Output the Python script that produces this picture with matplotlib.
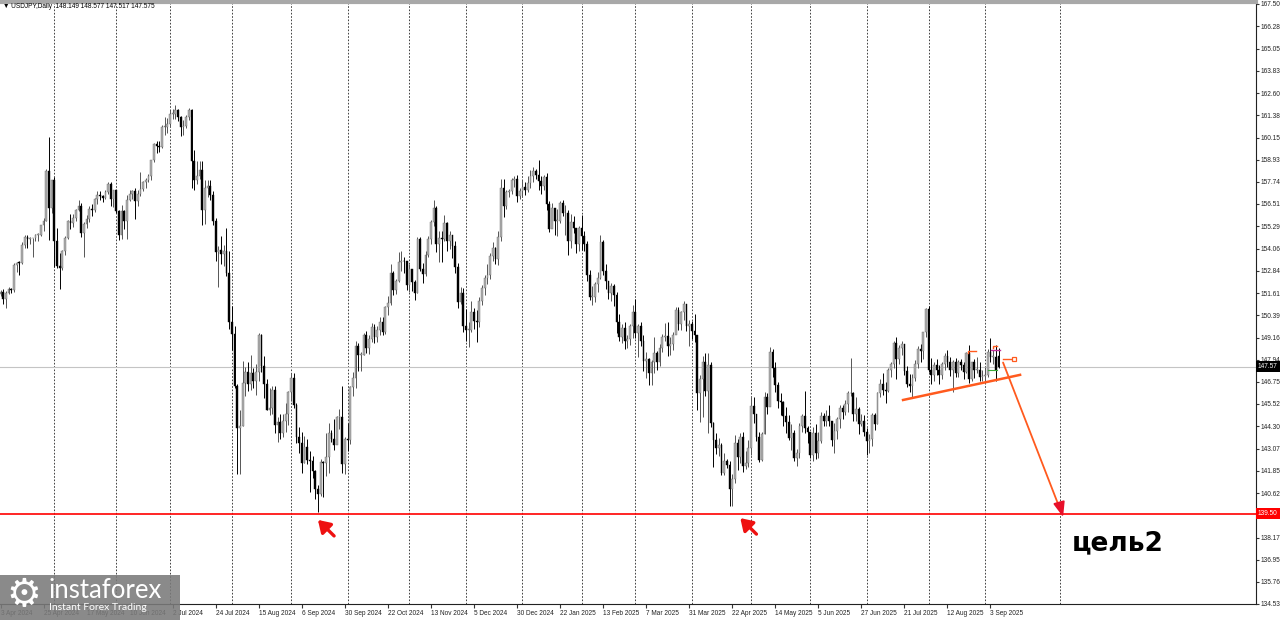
import numpy as np
import pandas as pd
import matplotlib
matplotlib.use('Agg')
import matplotlib.pyplot as plt
import matplotlib.transforms as mtransforms
from matplotlib.patches import Rectangle

plt.rcParams['font.family'] = ['Liberation Sans', 'DejaVu Sans']

# USDJPY Daily, 3 Apr 2024 .. 8 Sep 2025, one line per month
close = [
    151.68, 151.30, 151.62, 151.86, 151.76, 153.17, 153.28, 153.27, 154.25, 154.70, 154.60, 154.62, 154.63, 154.81, 154.82, 155.35, 155.60, 158.33, 156.30, 157.80,
    154.50, 153.10, 152.98, 153.90, 154.65, 155.55, 155.45, 155.75, 156.20, 156.40, 154.90, 155.40, 155.70, 156.25, 156.20, 156.80, 157.00, 156.95, 156.85, 157.15, 157.60, 156.80, 157.25,
    156.10, 154.80, 156.10, 155.60, 156.75, 157.05, 157.20, 156.70, 157.05, 157.35, 157.70, 157.85, 158.05, 158.90, 159.80, 159.70, 159.65, 160.75, 160.75, 160.90,
    161.45, 161.45, 161.70, 161.30, 160.75, 160.80, 161.30, 161.65, 158.85, 157.85, 158.05, 158.40, 156.20, 157.40, 157.50, 157.00, 155.60, 153.85, 154.00, 153.75, 153.90, 152.70, 150.00,
    149.35, 146.50, 144.20, 144.30, 146.70, 147.25, 146.60, 147.20, 146.80, 147.30, 149.30, 147.60, 146.60, 145.20, 145.30, 146.30, 144.35, 144.55, 143.90, 144.60, 144.95, 146.20,
    146.95, 145.45, 143.70, 143.40, 142.30, 143.15, 142.45, 142.40, 141.85, 140.85, 140.60, 142.35, 142.30, 142.60, 143.90, 143.60, 143.25, 144.80, 144.80, 142.20, 143.60,
    143.55, 146.45, 146.95, 148.70, 148.20, 148.20, 149.30, 148.60, 149.10, 149.75, 149.20, 149.60, 150.05, 149.50, 150.85, 151.05, 152.70, 151.80, 152.30, 153.30, 153.40, 153.35, 152.05,
    152.95, 152.20, 151.60, 154.60, 152.95, 152.65, 153.70, 154.60, 155.50, 156.30, 154.30, 154.65, 154.60, 155.45, 154.50, 154.80, 154.20, 153.05, 151.10, 151.60, 149.80,
    149.60, 149.60, 150.60, 150.10, 150.00, 151.20, 151.90, 152.45, 152.60, 153.65, 154.10, 153.50, 154.70, 157.40, 156.40, 157.15, 157.20, 157.85, 157.90, 156.95, 157.20,
    157.45, 157.30, 157.65, 158.05, 158.30, 158.10, 157.75, 157.50, 158.00, 156.50, 155.15, 156.30, 155.60, 155.60, 156.55, 156.00, 156.00, 154.50, 155.50, 155.20, 154.30, 155.20,
    154.75, 154.30, 152.60, 151.40, 151.40, 152.10, 152.45, 154.40, 152.80, 152.30, 151.60, 152.00, 151.50, 150.00, 149.20, 149.70, 149.00, 149.10, 149.80, 150.60,
    149.40, 149.80, 149.00, 147.90, 148.00, 147.20, 147.80, 148.30, 147.80, 148.60, 149.20, 149.25, 148.70, 148.80, 149.30, 150.70, 149.90, 150.55, 151.00, 149.80, 149.90,
    149.55, 149.30, 146.10, 146.90, 147.80, 146.25, 147.65, 144.50, 143.55, 143.10, 143.25, 141.75, 142.40, 142.15, 140.85, 141.40, 143.40, 142.60, 143.70, 142.10, 142.30, 143.10,
    145.40, 144.95, 143.70, 142.45, 143.85, 145.90, 145.35, 148.40, 147.50, 146.55, 145.70, 145.65, 144.85, 144.55, 143.65, 143.95, 142.55, 142.85, 144.30, 144.85, 144.20, 144.00,
    142.70, 143.95, 142.80, 143.50, 144.85, 144.60, 144.85, 144.60, 143.55, 144.05, 144.70, 145.30, 145.10, 145.50, 146.10, 146.15, 144.95, 145.25, 144.40, 144.60, 144.00,
    143.50, 143.60, 144.90, 144.40, 146.10, 146.60, 146.30, 146.25, 147.40, 147.70, 148.85, 148.00, 148.60, 148.80, 147.35, 146.60, 146.50, 146.95, 147.70, 148.55, 148.45, 149.50, 150.75,
    147.40, 147.10, 147.65, 147.40, 147.10, 147.70, 148.15, 147.80, 147.40, 147.80, 147.20, 147.85, 147.65, 147.30, 148.30, 146.90, 147.80, 147.40, 147.40, 147.00, 147.05,
    147.10, 148.40, 148.10, 148.10, 147.40, 147.575,
]
high = [
    151.80, 151.85, 151.75, 151.95, 151.92, 153.24, 153.32, 153.40, 154.40, 154.78, 154.80, 154.70, 154.65, 154.85, 154.90, 155.38, 155.75, 158.44, 160.21, 157.85,
    158.00, 155.20, 153.80, 154.00, 154.75, 155.65, 155.95, 155.95, 156.25, 156.75, 156.55, 155.50, 155.90, 156.40, 156.50, 156.85, 157.20, 157.20, 157.00, 157.25, 157.70, 157.70, 157.30,
    157.30, 156.20, 156.45, 156.20, 157.00, 157.25, 157.30, 157.40, 157.30, 158.25, 157.75, 157.95, 158.15, 158.95, 159.85, 159.95, 159.95, 160.85, 161.30, 161.25,
    161.70, 161.75, 161.95, 161.75, 161.35, 161.15, 161.40, 161.80, 161.75, 159.45, 158.85, 158.85, 158.85, 157.85, 157.85, 157.80, 157.20, 155.75, 154.20, 154.75, 154.25, 155.20, 153.90,
    150.90, 149.80, 146.60, 145.20, 147.90, 147.55, 147.80, 148.20, 147.50, 147.70, 149.40, 149.35, 148.15, 146.90, 146.40, 146.50, 146.50, 144.80, 144.95, 144.95, 145.55, 146.25,
    147.20, 147.20, 145.55, 144.25, 144.00, 143.75, 143.60, 142.95, 142.65, 141.90, 141.05, 142.50, 142.40, 143.90, 144.50, 144.10, 144.70, 144.85, 145.25, 146.50, 143.70,
    144.50, 146.50, 147.25, 149.00, 148.85, 148.35, 149.40, 149.55, 149.30, 149.95, 149.90, 149.80, 150.30, 150.30, 150.90, 151.45, 153.20, 152.80, 152.40, 153.85, 153.90, 153.60, 153.40,
    153.20, 152.95, 152.35, 154.70, 154.70, 153.25, 153.90, 154.75, 155.65, 156.75, 156.40, 155.00, 155.00, 155.90, 155.50, 155.00, 154.65, 154.50, 153.25, 151.95, 151.90,
    150.75, 150.00, 151.20, 150.80, 150.70, 151.40, 152.05, 152.60, 153.20, 153.80, 154.40, 154.15, 155.00, 157.90, 157.90, 157.30, 157.35, 157.95, 158.05, 158.10, 157.40,
    157.80, 157.70, 158.05, 158.40, 158.55, 158.45, 158.90, 158.05, 158.10, 158.20, 156.70, 156.55, 156.25, 156.25, 156.70, 156.75, 156.45, 156.20, 155.95, 155.85, 155.20, 155.30,
    155.90, 155.00, 154.45, 152.90, 152.00, 152.20, 152.75, 154.80, 154.55, 153.20, 152.20, 152.15, 152.10, 151.70, 150.45, 149.90, 150.00, 149.30, 149.90, 150.95,
    151.30, 149.90, 150.00, 149.30, 148.40, 148.05, 147.95, 149.20, 148.45, 148.80, 149.35, 149.95, 150.00, 149.20, 149.45, 150.85, 150.85, 150.65, 151.20, 151.00, 150.15,
    150.10, 150.45, 149.25, 147.10, 148.15, 148.30, 148.30, 147.85, 144.55, 143.95, 143.65, 143.40, 142.85, 142.50, 142.40, 141.65, 143.80, 143.60, 143.90, 144.00, 142.95, 143.55,
    145.90, 145.90, 144.90, 144.00, 144.00, 146.20, 146.15, 148.65, 148.55, 147.80, 146.75, 146.10, 145.70, 145.35, 144.90, 144.40, 144.10, 143.05, 144.45, 144.95, 146.25, 144.30,
    144.00, 144.25, 144.40, 144.00, 145.10, 145.05, 145.20, 145.45, 144.60, 144.45, 144.80, 145.45, 145.45, 145.75, 146.25, 148.05, 146.20, 145.90, 145.35, 144.95, 144.90,
    144.20, 143.85, 145.00, 145.00, 146.20, 146.90, 147.20, 146.75, 147.50, 147.80, 149.00, 149.20, 148.75, 149.00, 148.75, 147.60, 147.15, 147.15, 147.95, 148.70, 148.80, 149.50, 150.80,
    150.90, 148.05, 147.85, 148.00, 147.65, 147.85, 148.30, 148.50, 148.10, 147.95, 148.05, 147.95, 148.00, 147.80, 148.35, 148.75, 147.85, 148.00, 148.10, 147.80, 147.40,
    147.55, 148.55, 149.15, 148.50, 148.75, 148.577,
]
low = [
    151.45, 151.00, 150.80, 151.55, 151.60, 151.70, 152.75, 152.60, 153.20, 154.10, 154.10, 154.30, 153.58, 154.50, 154.50, 154.75, 155.00, 155.55, 154.54, 156.00,
    153.04, 152.98, 151.86, 152.90, 153.70, 154.60, 155.15, 155.25, 155.60, 156.10, 154.70, 153.60, 155.20, 155.50, 155.85, 156.05, 156.50, 156.75, 156.60, 156.80, 157.05, 156.40, 156.35,
    156.00, 154.55, 154.60, 155.15, 154.60, 156.65, 156.80, 155.70, 156.40, 156.95, 157.20, 157.40, 157.70, 157.85, 158.80, 159.30, 159.35, 159.60, 160.30, 160.40,
    160.80, 161.20, 161.20, 161.05, 160.25, 160.30, 160.70, 161.15, 157.40, 157.30, 157.60, 157.90, 155.35, 155.40, 156.90, 156.75, 155.35, 153.40, 151.95, 153.20, 153.10, 152.55, 149.65,
    148.50, 146.40, 141.70, 141.70, 144.30, 145.95, 146.25, 146.30, 146.40, 146.00, 146.80, 147.30, 145.85, 145.20, 144.90, 144.95, 143.95, 143.45, 143.60, 143.70, 144.00, 144.35,
    145.70, 145.30, 143.35, 142.85, 141.75, 142.30, 142.20, 140.70, 141.45, 140.30, 139.58, 140.45, 140.40, 141.55, 141.75, 143.45, 143.00, 143.40, 144.15, 141.75, 141.65,
    142.95, 143.30, 145.95, 146.40, 147.35, 147.35, 148.20, 148.30, 148.25, 148.95, 148.85, 148.95, 149.30, 149.30, 149.35, 150.40, 150.95, 151.50, 151.55, 152.20, 152.80, 152.70, 151.80,
    151.70, 151.75, 151.25, 151.60, 152.80, 152.15, 152.55, 153.60, 154.30, 155.30, 153.85, 153.30, 153.30, 154.45, 153.90, 154.05, 153.55, 152.70, 150.80, 151.00, 149.50,
    149.00, 148.65, 149.45, 149.65, 148.90, 149.75, 150.95, 151.50, 152.10, 152.40, 153.40, 153.20, 153.15, 154.50, 155.80, 156.25, 156.90, 157.05, 157.45, 156.60, 156.80,
    156.90, 157.00, 157.15, 157.40, 157.70, 157.90, 157.30, 157.05, 157.25, 156.20, 154.95, 155.20, 154.80, 154.75, 155.45, 155.85, 154.80, 153.70, 154.10, 154.90, 153.80, 153.90,
    154.00, 153.90, 152.25, 151.25, 150.95, 151.10, 151.70, 152.40, 152.60, 151.85, 151.30, 151.20, 150.90, 149.40, 149.00, 148.85, 148.55, 148.60, 148.75, 149.15,
    149.15, 148.10, 148.70, 147.35, 146.95, 146.55, 146.55, 147.20, 147.40, 147.60, 148.40, 149.00, 148.15, 148.20, 148.50, 149.35, 149.60, 149.60, 150.15, 149.55, 148.70,
    149.10, 148.90, 145.20, 144.55, 144.80, 145.95, 143.90, 144.25, 142.05, 142.75, 142.65, 141.60, 141.60, 142.00, 139.90, 139.89, 141.20, 141.90, 142.30, 141.80, 141.95, 142.05,
    142.70, 144.45, 143.50, 142.35, 142.40, 143.85, 144.95, 145.45, 147.00, 146.20, 145.30, 144.90, 144.30, 143.95, 143.55, 143.00, 142.40, 142.10, 142.55, 144.00, 143.90, 143.40,
    142.55, 142.40, 142.50, 142.55, 143.40, 144.30, 144.30, 144.30, 143.20, 142.80, 143.60, 144.20, 144.70, 144.90, 145.10, 145.95, 144.60, 144.60, 143.85, 144.30, 143.75,
    142.70, 142.85, 143.20, 144.10, 144.40, 145.90, 146.00, 145.60, 146.20, 147.00, 147.50, 146.90, 147.70, 148.20, 147.10, 146.45, 146.20, 145.85, 146.80, 147.50, 147.85, 148.00, 149.20,
    147.30, 146.60, 146.80, 147.10, 146.60, 146.90, 147.40, 147.55, 147.05, 146.20, 147.00, 147.00, 147.40, 146.90, 147.20, 146.70, 146.80, 146.95, 147.20, 146.80, 146.80,
    146.70, 147.00, 147.85, 147.70, 146.80, 147.517,
]
first_open = 151.57          # close of 2 Apr 2024
last_open = 148.149          # open of the last bar (header)

ytick_vals = ['167.50', '166.28', '165.05', '163.83', '162.60', '161.38', '160.15', '158.93',
              '157.74', '156.51', '155.29', '154.06', '152.84', '151.61', '150.39', '149.16',
              '147.94', '146.75', '145.52', '144.30', '143.07', '141.85', '140.62', '139.40',
              '138.17', '136.95', '135.76', '134.53']

support_level = 139.50
current_price = 147.575

close = np.array(close)
high = np.array(high)
low = np.array(low)
n = len(close)
opens = np.r_[first_open, close[:-1]]
opens[-1] = last_open

# broker calendar: weekdays without 25 Dec and 1 Jan
dates = pd.bdate_range('2024-04-03', '2025-09-08')
dates = dates[~dates.isin(pd.to_datetime(['2024-12-25', '2025-01-01']))][:n]

fs = 4.7  # small terminal font

fig = plt.figure(figsize=(12.8, 6.2), dpi=100)
ax = fig.add_axes([0.0, 16 / 620, 1256 / 1280, 602 / 620])
ax.set_xlim(-0.19, 466.7)
ax.set_ylim(134.53, 167.607)

x = np.arange(n)
up = close >= opens
bot = np.minimum(opens, close)
hgt = np.maximum(np.abs(close - opens), 0.04)

# month grid lines
month_start = [i for i in range(1, n) if dates[i].month != dates[i - 1].month]
future_grid = n - 1 + (pd.Timestamp('2025-10-01') - dates[-1]).days
for i in month_start + [future_grid]:
    ax.axvline(i, color='#222222', lw=0.6, ls=(0, (2, 2)), zorder=0)

ax.axhline(current_price, color='#c4c4c4', lw=0.8, zorder=0.5)

ax.vlines(x[up], low[up], high[up], color='#555555', lw=0.7, zorder=2)
ax.vlines(x[~up], low[~up], high[~up], color='black', lw=0.7, zorder=2)
ax.bar(x[up], hgt[up], bottom=bot[up], width=0.66, color='#b0b0b0',
       edgecolor='#6a6a6a', linewidth=0.3, zorder=3)
ax.bar(x[~up], hgt[~up], bottom=bot[~up], width=0.66, color='black',
       edgecolor='black', linewidth=0.3, zorder=3)

# support line and drawings
ax.axhline(support_level, color='#ff0000', lw=1.2, zorder=4)
orange = '#ff5a1e'
ax.plot([335.5, 379.0], [145.74, 147.12], color=orange, lw=1.8, zorder=5)
ax.annotate('', xy=(395.0, 139.31), xytext=(372.3, 147.94),
            arrowprops=dict(arrowstyle='-', color=orange, lw=1.3), zorder=5)
ax.annotate('', xy=(395.0, 139.31), xytext=(393.6, 140.05),
            arrowprops=dict(arrowstyle='-|>,head_length=0.9,head_width=0.35',
                            color='#e8102a', lw=1.3, shrinkA=0, shrinkB=0), zorder=6)

for tip, tail in [((118.0, 139.15), (124.0, 138.27)), ((275.0, 139.25), (281.0, 138.37))]:
    ax.annotate('', xy=tip, xytext=tail,
                arrowprops=dict(arrowstyle='-|>,head_length=0.7,head_width=0.45',
                                color='#ee1111', lw=2.4, shrinkA=0, shrinkB=0), zorder=6)

ax.text(398.3, 137.50, 'цель2', fontsize=19, fontweight='bold', family='DejaVu Sans',
        va='baseline', ha='left', color='black', zorder=7)

# small trade markers near the last bars
ax.plot([359.5, 359.5, 362.5], [148.30, 148.43, 148.43], color=orange, lw=1.0, zorder=6)
ax.plot([369.0, 369.0, 370.6], [148.58, 148.72, 148.72], color=orange, lw=1.0, zorder=6)
ax.plot([368.2, 371.5], [148.48, 148.48], color='#c0309a', lw=1.0, zorder=6)
ax.plot([367.0, 370.5], [147.39, 147.39], color='#3aa83a', lw=0.8, zorder=6)
ax.plot([372.5, 376.0], [147.99, 147.99], color=orange, lw=1.0, zorder=6)
ax.plot([376.8], [147.99], marker='s', ms=3.2, mfc='white', mec=orange, mew=0.9, zorder=6)

# axes styling
ax.spines['left'].set_visible(False)
ax.spines['top'].set_color('#a8a8a8')
ax.spines['top'].set_linewidth(3)
ax.spines['right'].set_color('#222222')
ax.spines['right'].set_linewidth(0.8)
ax.spines['bottom'].set_color('#222222')
ax.spines['bottom'].set_linewidth(0.8)

ax.yaxis.tick_right()
ax.set_yticks([float(v) for v in ytick_vals])
ax.set_yticklabels(ytick_vals)
ax.tick_params(axis='y', length=2.5, pad=1.0, labelsize=fs, color='#333333', labelcolor='#222222')

xt = list(range(0, n, 16))
ax.set_xticks(xt)
ax.set_xticklabels([f"{dates[i].day} {dates[i].strftime('%b %Y')}" for i in xt], ha='left')
ax.tick_params(axis='x', length=3, pad=1.5, labelsize=fs, color='#333333', labelcolor='#222222')

trans = mtransforms.blended_transform_factory(ax.transAxes, ax.transData)
for price, txt, col in [(current_price, '147.57', 'black'), (support_level, '139.50', '#ff0000')]:
    ax.text(1.0016, price, txt, transform=trans, fontsize=fs, color='white',
            va='center', ha='left', clip_on=False, zorder=10,
            bbox=dict(boxstyle='square,pad=0.3', fc=col, ec='none'))

fig.text(3 / 1280, (620 - 6) / 620, '\u25bc USDJPY,Daily  148.149 148.577 147.517 147.575',
         fontsize=fs, va='center', ha='left', color='black')

# watermark logo
fig.add_artist(Rectangle((0, 0), 180 / 1280, 45 / 620, transform=fig.transFigure,
                         fc='#7a7a7a', ec='none', alpha=0.88, zorder=20))
fig.text(24 / 1280, (620 - 595) / 620, '\u2699', family='DejaVu Sans', fontsize=28,
         color='white', ha='center', va='center', zorder=21)
fig.text(48 / 1280, (620 - 591) / 620, 'instaforex', family='Lato', fontsize=18.5,
         color='white', ha='left', va='center', zorder=21)
fig.text(49 / 1280, (620 - 608) / 620, 'Instant Forex Trading', family='Lato', fontsize=7.5,
         color='white', ha='left', va='center', zorder=21)

fig.savefig('out.png', dpi=100, facecolor='white')
